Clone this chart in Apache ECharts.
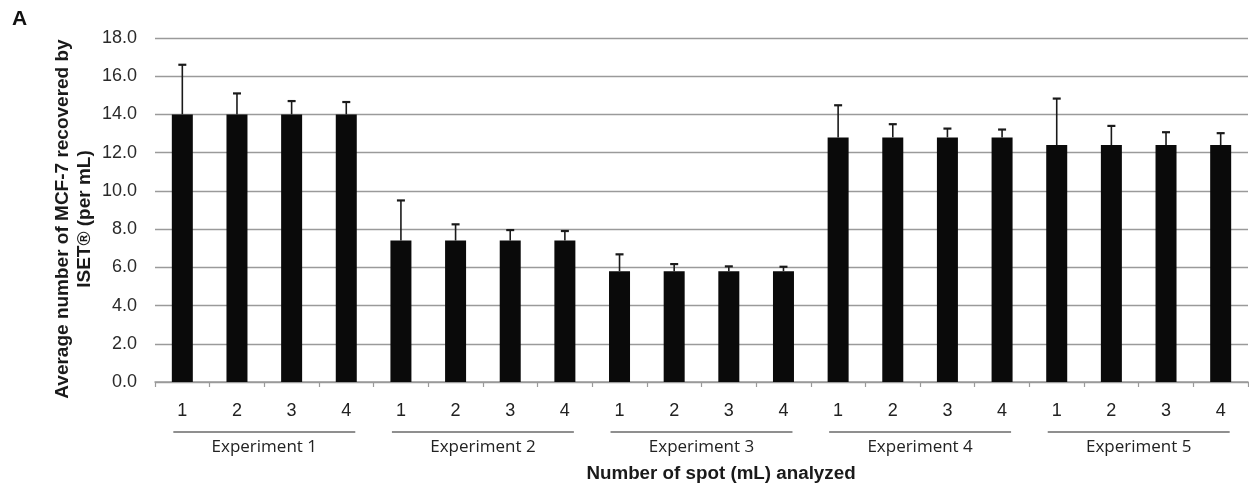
<!DOCTYPE html>
<html><head><meta charset="utf-8">
<script src="https://cdn.jsdelivr.net/npm/echarts@6/dist/echarts.min.js"></script>
<style>html,body{margin:0;padding:0;background:#fff}#c{width:1249px;height:486px}</style>
</head><body><div id="c"></div>
<script>
const experiments = ["Experiment 1", "Experiment 2", "Experiment 3", "Experiment 4", "Experiment 5"];
const spots = ["1", "2", "3", "4"];
const means = [14.0, 14.0, 14.0, 14.0, 7.4, 7.4, 7.4, 7.4, 5.8, 5.8, 5.8, 5.8, 12.8, 12.8, 12.8, 12.8, 12.4, 12.4, 12.4, 12.4];
const sds = [2.6, 1.1, 0.7, 0.65, 2.1, 0.85, 0.55, 0.5, 0.88, 0.37, 0.25, 0.23, 1.68, 0.69, 0.46, 0.41, 2.43, 1.0, 0.67, 0.62];
const yMin = 0, yMax = 18, yStep = 2;

const categories = experiments.flatMap(e => spots.map(s => e + '|' + s));
const ARIAL = '"Liberation Sans", Arial, sans-serif';

const chart = echarts.init(document.getElementById('c'), null, {renderer: 'canvas'});
const option = {
  animation: false,
  backgroundColor: '#fff',
  grid: {left: 155, right: 1, top: 38, bottom: 104, containLabel: false},
  xAxis: [{
    type: 'category', data: categories, boundaryGap: true,
    axisLine: {lineStyle: {color: '#9a9a9a', width: 1.5}},
    axisTick: {show: true, length: 5, lineStyle: {color: '#9a9a9a', width: 1.2}},
    axisLabel: {formatter: v => v.split('|')[1], fontFamily: ARIAL, fontSize: 18, color: '#222', margin: 20}
  }, {
    type: 'category', data: experiments, position: 'bottom', offset: 50, gridIndex: 0,
    axisLine: {show: false}, axisTick: {show: false},
    axisLabel: {fontFamily: '"Open Sans", sans-serif', fontSize: 17, color: '#222', margin: 7}
  }],
  yAxis: {
    type: 'value', min: yMin, max: yMax, interval: yStep,
    axisLine: {show: false}, axisTick: {show: false},
    axisLabel: {formatter: v => v.toFixed(1), fontFamily: ARIAL, fontSize: 18, color: '#2a2a2a', margin: 18},
    splitLine: {lineStyle: {color: '#9a9a9a', width: 1.3}}
  },
  series: [{
    type: 'bar', xAxisIndex: 0, data: means, barWidth: 21,
    itemStyle: {color: '#0a0a0a'}
  }, {
    type: 'custom', xAxisIndex: 0, z: 3,
    data: means.map((m, i) => [i, m, m + sds[i]]),
    renderItem: (params, api) => {
      const base = api.coord([api.value(0), api.value(1)]);
      const top = api.coord([api.value(0), api.value(2)]);
      const st = {stroke: '#1a1a1a', lineWidth: 1.6};
      return {type: 'group', children: [
        {type: 'line', shape: {x1: base[0], y1: base[1], x2: top[0], y2: top[1]}, style: st},
        {type: 'line', shape: {x1: top[0] - 4, y1: top[1], x2: top[0] + 4, y2: top[1]}, style: {stroke: '#1a1a1a', lineWidth: 2.2}}
      ]};
    }
  }]
};
chart.setOption(option);

const y0 = chart.convertToPixel({yAxisIndex: 0}, 0);
const groupLines = experiments.map((e, g) => {
  const a = chart.convertToPixel({xAxisIndex: 0}, categories[g * 4]);
  const b = chart.convertToPixel({xAxisIndex: 0}, categories[g * 4 + 3]);
  const c = (a + b) / 2, half = (b - a) / 2 + 9;
  return {type: 'line', shape: {x1: c - half, y1: y0 + 50, x2: c + half, y2: y0 + 50}, style: {stroke: '#6a6a6a', lineWidth: 1.5}};
});
chart.setOption({graphic: [
  ...groupLines,
  {type: 'text', x: 12, y: 9, style: {text: 'A', font: 'bold 21px ' + ARIAL, fill: '#111'}},
  {type: 'text', x: 74, y: 219, rotation: Math.PI / 2,
   style: {text: 'Average number of MCF-7 recovered by\nISET® (per mL)', font: 'bold 19px ' + ARIAL, fill: '#1a1a1a', align: 'center', verticalAlign: 'middle', lineHeight: 22}},
  {type: 'text', x: 721, y: 474,
   style: {text: 'Number of spot (mL) analyzed', font: 'bold 18.8px ' + ARIAL, fill: '#1a1a1a', align: 'center', verticalAlign: 'middle'}}
]});
</script></body></html>
